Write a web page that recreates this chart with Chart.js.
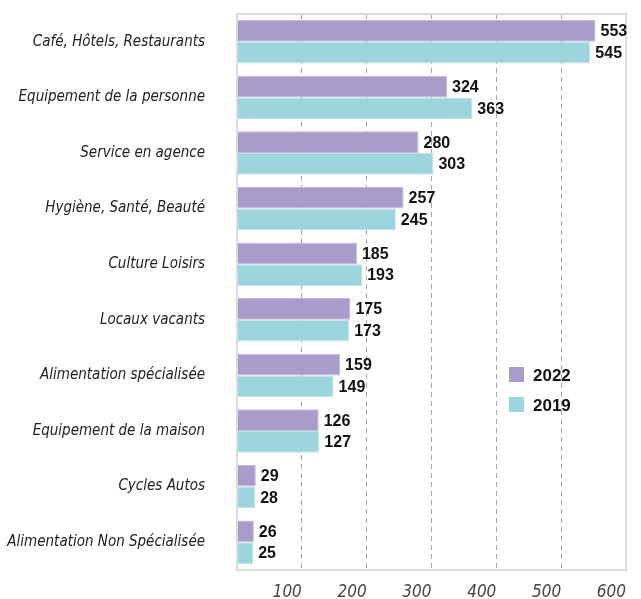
<!DOCTYPE html>
<html>
<head>
<meta charset="utf-8">
<script src="https://cdn.jsdelivr.net/npm/chart.js@4"></script>
<style>
  html, body { margin: 0; padding: 0; background: #fff; }
  #wrap { width: 641px; height: 599px; position: relative; }
</style>
</head>
<body>
<div id="wrap"><canvas id="chart"></canvas></div>
<script>
// ---- data ----
const categories = [
  "Café, Hôtels, Restaurants",
  "Equipement de la personne",
  "Service en agence",
  "Hygiène, Santé, Beauté",
  "Culture Loisirs",
  "Locaux vacants",
  "Alimentation spécialisée",
  "Equipement de la maison",
  "Cycles Autos",
  "Alimentation Non Spécialisée",
];
const values2022 = [553, 324, 280, 257, 185, 175, 159, 126, 29, 26];
const values2019 = [545, 363, 303, 245, 193, 173, 149, 127, 28, 25];
const xTicks = [0, 100, 200, 300, 400, 500, 600];

const NARROW = "'Liberation Sans Narrow', 'DejaVu Sans Condensed', 'Liberation Sans', sans-serif";
const SANS = "'Liberation Sans', Arial, sans-serif";

// value labels drawn at the end of each bar
const barLabels = {
  id: "barLabels",
  afterDatasetsDraw(chart) {
    const ctx = chart.ctx;
    ctx.save();
    ctx.font = "bold 16px " + SANS;
    ctx.fillStyle = "#111";
    ctx.textAlign = "left";
    ctx.textBaseline = "middle";
    chart.data.datasets.forEach((ds, i) => {
      chart.getDatasetMeta(i).data.forEach((bar, j) => {
        ctx.fillText(String(ds.data[j]), bar.x + 5, bar.y + 1);
      });
    });
    ctx.restore();
  },
};

// light frame round the plot area
const frame = {
  id: "frame",
  afterDatasetsDraw(chart) {
    const a = chart.chartArea;
    const ctx = chart.ctx;
    ctx.save();
    ctx.strokeStyle = "#dcdcdc";
    ctx.lineWidth = 2;
    ctx.strokeRect(a.left, a.top, a.right - a.left, a.bottom - a.top);
    ctx.restore();
  },
};

const legendBox = {
  id: "legendBox",
  afterDraw(chart) {
    const ctx = chart.ctx;
    const items = [
      { text: "2022", color: "#a99bca", y: 375 },
      { text: "2019", color: "#9dd5dd", y: 405 },
    ];
    ctx.save();
    ctx.font = "bold 17px " + SANS;
    ctx.textBaseline = "middle";
    items.forEach((it) => {
      ctx.fillStyle = it.color;
      ctx.fillRect(509, it.y - 8, 15, 15);
      ctx.fillStyle = "#111";
      ctx.fillText(it.text, 533, it.y + 1);
    });
    ctx.restore();
  },
};

new Chart(document.getElementById("chart"), {
  type: "bar",
  data: {
    labels: categories,
    datasets: [
      { label: "2022", data: values2022, backgroundColor: "#a99bca", borderColor: "#c4b9dc", borderWidth: 1, borderSkipped: "left" },
      { label: "2019", data: values2019, backgroundColor: "#9dd5dd", borderColor: "#bfe4e9", borderWidth: 1, borderSkipped: "left" },
    ],
  },
  options: {
    indexAxis: "y",
    responsive: true,
    maintainAspectRatio: false,
    animation: false,
    datasets: { bar: { categoryPercentage: 0.78, barPercentage: 1.0 } },
    layout: { padding: { top: 14, right: 15, bottom: 0, left: 0 } },
    plugins: {
      legend: { display: false },
      tooltip: { enabled: false },
    },
    scales: {
      x: {
        min: 0,
        max: 600,
        afterBuildTicks: (axis) => { axis.ticks = xTicks.map((v) => ({ value: v })); },
        afterFit: (axis) => { axis.height = 29; axis.paddingLeft = 0; axis.paddingRight = 0; },
        border: { display: false, dash: [5, 4] },
        grid: { color: "#a8a8a8", lineWidth: 1, drawTicks: false },
        ticks: {
          align: "end",
          padding: 12,
          color: "#444",
          font: { family: NARROW, size: 17, style: "italic" },
          callback: (v) => (v === 0 ? "" : v),
        },
      },
      y: {
        afterFit: (axis) => { axis.width = 237; axis.paddingTop = 0; axis.paddingBottom = 0; },
        border: { display: false },
        grid: { display: false, drawTicks: false },
        ticks: {
          padding: 32,
          color: "#222",
          font: { family: NARROW, size: 15, style: "italic" },
        },
      },
    },
  },
  plugins: [frame, barLabels, legendBox],
});
</script>
</body>
</html>
